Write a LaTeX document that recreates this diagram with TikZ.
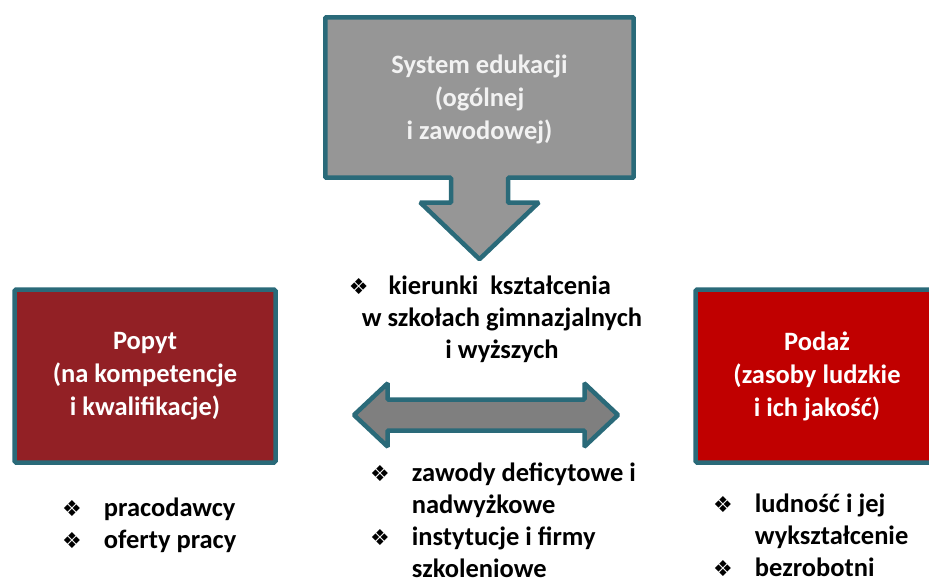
\documentclass[tikz,border=0pt]{standalone}
\usepackage{fontspec}
\setmainfont{Carlito}
\newfontfamily\symbfont{DejaVu Sans}
\usetikzlibrary{positioning,calc}
\definecolor{rim}{HTML}{2A6A79}
\definecolor{eduGrey}{HTML}{969696}
\definecolor{arrGrey}{HTML}{7F7F7F}
\definecolor{popytRed}{HTML}{922025}
\definecolor{podazRed}{HTML}{C00000}
\tikzset{
  box/.style={draw=rim, line width=4.5pt, rounded corners=1.5pt, minimum width=261pt, minimum height=173pt},
  boxtext/.style={text=white, align=center, font=\bfseries\fontsize{26.5}{33}\selectfont},
  listtext/.style={inner sep=0pt, font=\bfseries\fontsize{26.5}{32}\selectfont},
  blockarr/.style={draw=rim, line width=4.5pt, line join=miter, rounded corners=1pt}
}
\newcommand{\bul}{{\symbfont\fontsize{22}{22}\selectfont ❖}}

\begin{document}
\begin{tikzpicture}[x=1pt,y=-1pt]
    \useasboundingbox (0,0) rectangle (929,582);
    \clip (0,0) rectangle (929,582);

    % system edukacji (down arrow callout)
    \node[minimum width=308pt, minimum height=160pt] (edu) at (479.5,97.5) {};
    \filldraw[blockarr, fill=eduGrey] (edu.north west) -- (edu.north east) -- (edu.south east)
        -- ($(edu.south)+(28.5,0)$) -- ++(0,25) -- ++(30.5,0) -- ($(edu.south)+(0,81.5)$)
        -- ($(edu.south)+(-59,25)$) -- ++(30.5,0) -- ++(0,-25) -- (edu.south west) -- cycle;
    \node[boxtext, text=white!95!black] (eduText) at ($(edu.center)+(0,2)$) {System edukacji\\(ogólnej\\i zawodowej)};

    \node[box, fill=popytRed, boxtext] (popyt) at (145,376) {Popyt\\(na kompetencje\\i kwalifikacje)};
    \node[box, fill=podazRed, boxtext, minimum width=243pt] (podaz) at (817,376) {Podaż\\(zasoby ludzkie\\i ich jakość)};

    % double arrow between demand and supply
    \coordinate (mid) at (486,415);
    \filldraw[blockarr, fill=arrGrey, shift={(mid)}] (-132,0) -- (-98.5,-31.5) -- (-98.5,-15.5)
        -- (98.5,-15.5) -- (98.5,-31.5) -- (132,0) -- (98.5,31.5) -- (98.5,15.5)
        -- (-98.5,15.5) -- (-98.5,31.5) -- cycle;

    \node[listtext, anchor=base] (kier) at (502,294) {
        \begin{tabular}[t]{@{}c@{}}
            \bul\hspace{20pt}kierunki\ \ kształcenia\kern44pt \\
            w szkołach gimnazjalnych \\ i wyższych
        \end{tabular}
    };

    \node[listtext, anchor=base west] (popytList) at (62,516) {
        \begin{tabular}[t]{@{}l@{\hspace{22pt}}l@{}}
            \bul & pracodawcy \\ \bul & oferty pracy
        \end{tabular}
    };
    \node[listtext, anchor=base west] (eduList) at (370,481) {
        \begin{tabular}[t]{@{}l@{\hspace{22pt}}l@{}}
            \bul & zawody deficytowe i \\ & nadwyżkowe \\
            \bul & instytucje i firmy \\ & szkoleniowe
        \end{tabular}
    };
    \node[listtext, anchor=base west] (podazList) at (713,512) {
        \begin{tabular}[t]{@{}l@{\hspace{22pt}}l@{}}
            \bul & ludność i jej \\ & wykształcenie \\ \bul & bezrobotni
        \end{tabular}
    };
\end{tikzpicture}
\end{document}
